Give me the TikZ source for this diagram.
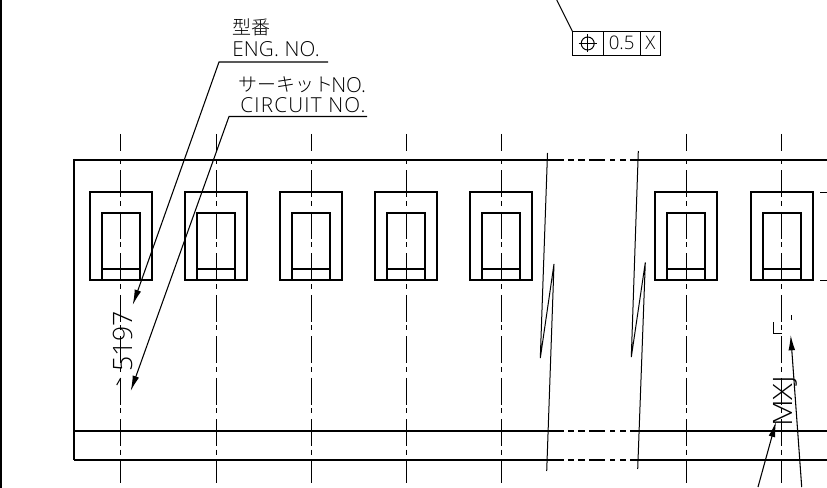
\documentclass[tikz,border=0pt]{standalone}
\usepackage{fontspec}
\usetikzlibrary{arrows.meta}
\setmainfont{Open Sans}[UprightFont=* Light]
\newfontfamily\cjkfont{Noto Sans CJK JP Light}
\newfontfamily\widefont{Open Sans Light}[FakeStretch=1.16]
\tikzset{
  outline/.style={line width=1.35pt},
  thinline/.style={line width=0.75pt},
  centerline/.style={line width=0.75pt,dash pattern=on 20.25pt off 2.6pt on 3.75pt off 4.5pt,dash phase=22.5pt},
  leader/.style={line width=0.8pt,->,>={Latex[length=11.5pt,width=5pt]}},
  label/.style={anchor=base west,inner sep=0pt,font=\fontsize{15.5pt}{15.5pt}\selectfont},
  cjklabel/.style={anchor=base west,inner sep=0pt,font=\fontsize{14.2pt}{14.2pt}\selectfont\cjkfont},
  boxtext/.style={anchor=base,inner sep=0pt,font=\fontsize{14pt}{14pt}\selectfont},
  marking/.style={anchor=base west,inner sep=0pt,rotate=90,font=\fontsize{20pt}{20pt}\selectfont}
}
\begin{document}
\begin{tikzpicture}[x=0.75pt,y=-0.75pt]
\useasboundingbox (0,0) rectangle (827,488);

% sheet edge
\draw[outline] (1,0) -- (1,488);

% strip with its break
\draw[outline] (74,159) -- (74,460);
\foreach \y in {160,431.5,460}
\foreach \a/\b in {74/564,568/574,578/585,589/605,610/615,620/626,630/827}
\draw[outline,yshift=0.2pt] (\a,\y) -- (\b,\y);

% windows
\foreach \x in {121,216,311,406,501,686,782}{
\begin{scope}[xshift=\x*0.75pt]
\draw[outline] (-31,192) rectangle (31,280);
\draw[outline] (-19,280) -- (-19,213) -- (19,213) -- (19,280);
\draw[thinline,line width=1pt] (-19,269) -- (19,269);
\end{scope}
}
\draw[thinline] (820,192.5) -- (827,192.5);
\draw[thinline] (820,280.5) -- (827,280.5);

% center lines
\foreach \x in {120.5,216,311.5,406.5,501.5,686.5,781.5}{
\draw[thinline] (\x,134) -- (\x,151);
\draw[centerline] (\x,159) -- (\x,483);
}

% break lines
\draw[thinline] (547.5,153) -- (540.3,358) -- (554,264) -- (546.7,471);
\draw[thinline] (638.3,151) -- (631.3,357) -- (645.3,262.5) -- (637.7,469);

% position box
\coordinate (boxcorner) at (572.5,31.5);
\coordinate (boxleader) at (556.7,0);
\draw[thinline] (boxleader) -- (boxcorner);
\draw[thinline] (572.5,31.5) rectangle (660.5,56);
\draw[thinline] (603,31.5) -- (603,56);
\draw[thinline] (640.5,31.5) -- (640.5,56);
\draw[thinline] (587.7,43.5) circle (6.5);
\draw[thinline] (578.7,43.5) -- (596.7,43.5);
\draw[thinline] (587.7,34.5) -- (587.7,52.5);
\node[boxtext] (tolvalue) at (621.7,50) {0.5};
\node[boxtext] (tolref) at (650.5,50) {X};

% labels
\node[cjklabel] (engjp) at (232,35) {型番};
\node[label,font=\fontsize{15.5pt}{15.5pt}\selectfont\addfontfeature{LetterSpace=1}] (engtext) at (232,57) {ENG. NO.};
\node[cjklabel] (circjp) at (238,92) {サーキット};
\node[label] (circno) at (331,93) {NO.};
\node[label,font=\fontsize{15.5pt}{15.5pt}\selectfont\addfontfeature{LetterSpace=6}] (circtext) at (240,113) {CIRCUIT NO.};

% leaders
\coordinate (engend) at (328,62);
\coordinate (engknee) at (219,62);
\coordinate (engtip) at (132.7,305);
\draw[leader] (engend) -- (engknee) -- (engtip);
\coordinate (circend) at (367,116.5);
\coordinate (circknee) at (229,116.5);
\coordinate (circtip) at (130.7,391);
\draw[leader] (circend) -- (circknee) -- (circtip);

% markings on the strip
\node[marking] (partno) at (132,372) {5197};
\draw[thinline] (120.7,378) -- (116.7,385);
\node[marking,font=\fontsize{20pt}{20pt}\selectfont\widefont] (typeno) at (792,427) {MXJ};
\draw[thinline] (773.5,322) -- (773.5,333) -- (782,333);
\draw[thinline] (791.7,315) -- (791.7,320);

\coordinate (typeend) at (758,487);
\coordinate (typetip) at (776,421.7);
\draw[leader] (typeend) -- (typetip);
\coordinate (lotend) at (801.7,487);
\coordinate (lottip) at (790.7,335);
\draw[leader] (lotend) -- (lottip);
\end{tikzpicture}
\end{document}
